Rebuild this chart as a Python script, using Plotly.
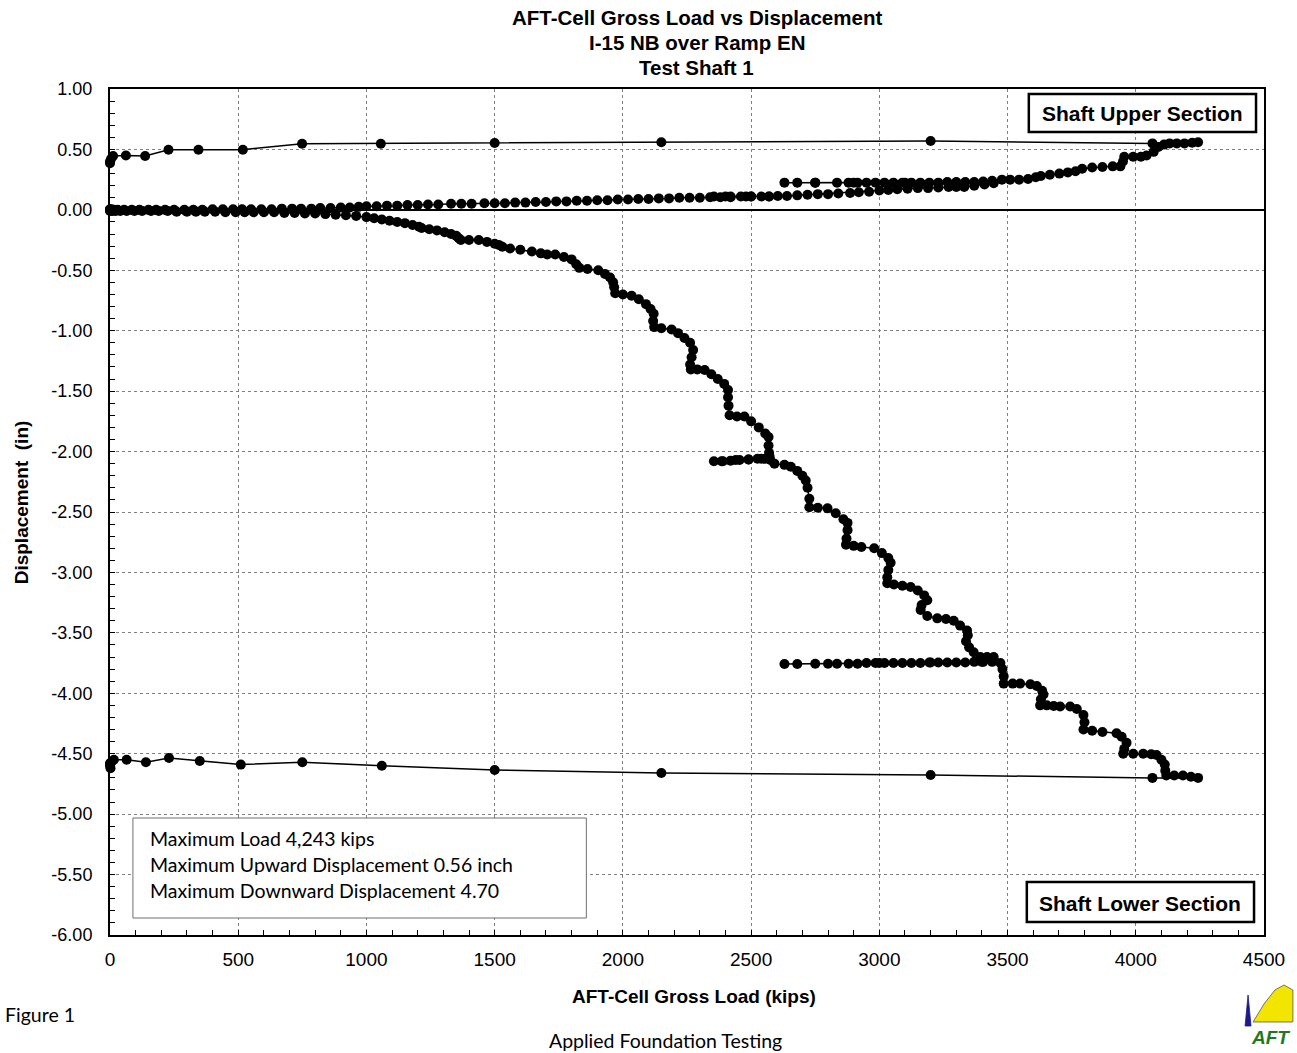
import plotly.graph_objects as go

# ---------------- data ----------------
# Shaft Lower Section : (AFT-cell gross load [kips], displacement [in]) in test order
lower_loading = [
    (0, 0), (0, -0.01), (4, -0.005), (10, -0.01), (22, -0.01), (40, -0.01), (65, -0.01), (95, -0.01),
    (125, -0.01), (160, -0.01), (190, -0.01), (225, -0.01), (260, -0.015), (300, -0.015), (335, -0.015),
    (370, -0.015), (410, -0.015), (450, -0.02), (490, -0.02), (525, -0.02), (560, -0.02), (600, -0.02),
    (640, -0.02), (680, -0.025), (720, -0.025), (760, -0.03), (800, -0.03), (840, -0.035), (880, -0.04),
    (920, -0.045), (960, -0.05), (1000, -0.06), (1030, -0.07), (1060, -0.08), (1090, -0.09), (1120, -0.10),
    (1150, -0.11), (1180, -0.125), (1205, -0.14), (1215, -0.15), (1245, -0.16), (1275, -0.17), (1305, -0.185),
    (1330, -0.20), (1350, -0.215), (1360, -0.235), (1368, -0.25), (1400, -0.25), (1438, -0.25), (1470, -0.265),
    (1500, -0.28), (1516, -0.29), (1530, -0.305), (1560, -0.32), (1600, -0.33), (1645, -0.345), (1680, -0.36),
    (1705, -0.37), (1736, -0.37), (1770, -0.39), (1800, -0.41), (1818, -0.45), (1830, -0.48), (1862, -0.49),
    (1904, -0.50), (1930, -0.53), (1950, -0.56), (1962, -0.60), (1966, -0.64), (1970, -0.69), (2000, -0.70),
    (2034, -0.71), (2062, -0.74), (2090, -0.78), (2108, -0.82), (2120, -0.86), (2118, -0.92), (2122, -0.97),
    (2150, -0.98), (2190, -0.99), (2215, -1.02), (2240, -1.06), (2262, -1.10), (2274, -1.16), (2268, -1.22),
    (2262, -1.28), (2265, -1.32), (2290, -1.32), (2319, -1.325), (2345, -1.36), (2370, -1.40), (2395, -1.44),
    (2410, -1.49), (2410, -1.55), (2412, -1.62), (2416, -1.70), (2445, -1.71), (2474, -1.71), (2500, -1.75),
    (2530, -1.80), (2555, -1.85), (2568, -1.88), (2568, -1.95), (2570, -2.01), (2572, -2.04),
    (2540, -2.06), (2490, -2.065), (2440, -2.07), (2390, -2.08), (2355, -2.08), (2385, -2.08), (2420, -2.075),
    (2455, -2.07), (2490, -2.065), (2525, -2.06), (2555, -2.06), (2575, -2.07), (2591, -2.10), (2630, -2.11),
    (2655, -2.125), (2680, -2.16), (2700, -2.20), (2713, -2.24), (2720, -2.30), (2727, -2.39), (2727, -2.46),
    (2760, -2.465), (2798, -2.47), (2830, -2.51), (2860, -2.56), (2876, -2.59), (2876, -2.65), (2872, -2.72),
    (2870, -2.77), (2900, -2.78), (2930, -2.79), (2980, -2.80), (3010, -2.84), (3035, -2.88), (3044, -2.92),
    (3035, -2.98), (3031, -3.04), (3031, -3.09), (3057, -3.10), (3090, -3.11), (3122, -3.12), (3150, -3.15),
    (3175, -3.19), (3187, -3.23), (3165, -3.27), (3161, -3.31), (3187, -3.36), (3226, -3.38), (3260, -3.385),
    (3290, -3.40), (3315, -3.44), (3342, -3.48), (3345, -3.52), (3338, -3.57), (3350, -3.62), (3368, -3.66),
    (3394, -3.70), (3420, -3.70), (3446, -3.70),
    (3400, -3.74), (3200, -3.745), (3000, -3.75), (2800, -3.755), (2630, -3.757),
    (2680, -3.757), (2750, -3.755), (2835, -3.755), (2880, -3.755), (2915, -3.755), (2950, -3.75), (2985, -3.75),
    (3020, -3.75), (3055, -3.75), (3090, -3.75), (3125, -3.75), (3160, -3.75), (3195, -3.745), (3230, -3.745),
    (3265, -3.745), (3300, -3.745), (3335, -3.745), (3370, -3.74), (3405, -3.74), (3440, -3.74),
    (3472, -3.75), (3480, -3.80), (3485, -3.86), (3485, -3.92), (3520, -3.92), (3549, -3.92), (3589, -3.925),
    (3614, -3.94), (3635, -3.98), (3640, -4.01), (3630, -4.05), (3627, -4.10), (3653, -4.10), (3680, -4.105),
    (3705, -4.11), (3744, -4.11), (3770, -4.13), (3796, -4.18), (3800, -4.24), (3796, -4.30), (3830, -4.31),
    (3870, -4.32), (3925, -4.33), (3945, -4.36), (3964, -4.41), (3955, -4.46), (3951, -4.50), (3990, -4.50),
    (4029, -4.50), (4060, -4.505), (4081, -4.51), (4100, -4.55), (4113, -4.59), (4115, -4.64), (4119, -4.68),
    (4150, -4.68), (4184, -4.68), (4215, -4.69), (4243, -4.70),
]
lower_unloading = [
    (4065, -4.70), (3200, -4.676), (2150, -4.66), (1500, -4.635), (1060, -4.60), (750, -4.57), (510, -4.59),
    (350, -4.56), (230, -4.535), (140, -4.57), (65, -4.55), (15, -4.55), (5, -4.57), (0, -4.58), (0, -4.60),
    (2, -4.62),
]

# Shaft Upper Section
upper_loading = [
    (0, 0), (0, 0.005), (5, 0.005), (15, 0.0), (30, 0.0), (55, 0.0), (85, 0.0), (115, 0.0), (150, 0.0),
    (180, 0.0), (215, 0.0), (250, 0.0), (290, 0.0), (325, 0.0), (360, 0.0), (400, 0.005), (440, 0.005),
    (480, 0.005), (515, 0.005), (550, 0.005), (590, 0.005), (630, 0.005), (670, 0.01), (710, 0.01),
    (745, 0.01), (785, 0.01), (820, 0.015), (860, 0.015), (900, 0.02), (935, 0.02), (970, 0.025),
    (1000, 0.03), (1040, 0.03), (1080, 0.035), (1120, 0.035), (1160, 0.04), (1200, 0.04), (1240, 0.045),
    (1280, 0.045), (1330, 0.05), (1370, 0.05), (1410, 0.05), (1460, 0.055), (1500, 0.055), (1540, 0.055),
    (1580, 0.06), (1620, 0.06), (1660, 0.065), (1700, 0.065), (1740, 0.07), (1780, 0.07), (1820, 0.075),
    (1860, 0.075), (1900, 0.08), (1940, 0.08), (1980, 0.085), (2020, 0.085), (2060, 0.09), (2100, 0.09),
    (2140, 0.095), (2180, 0.095), (2220, 0.10), (2260, 0.10), (2300, 0.10), (2340, 0.105), (2380, 0.105),
    (2420, 0.105), (2460, 0.11), (2500, 0.11), (2540, 0.11), (2570, 0.11),
    (2480, 0.11), (2400, 0.11), (2355, 0.11), (2420, 0.11), (2500, 0.11), (2570, 0.11),
    (2604, 0.115), (2640, 0.115), (2680, 0.12), (2720, 0.125), (2760, 0.13), (2800, 0.13), (2840, 0.135),
    (2886, 0.14), (2920, 0.145), (2960, 0.15), (3000, 0.16), (3035, 0.165), (3070, 0.17), (3110, 0.175),
    (3150, 0.18), (3190, 0.18), (3230, 0.185), (3270, 0.19), (3300, 0.19), (3331, 0.19), (3370, 0.20),
    (3410, 0.21), (3446, 0.22),
    (3300, 0.225), (3100, 0.225), (2900, 0.225), (2750, 0.225), (2630, 0.225),
    (2680, 0.225), (2750, 0.225), (2835, 0.225), (2880, 0.225), (2915, 0.225), (2950, 0.225), (2985, 0.225),
    (3020, 0.225), (3055, 0.225), (3090, 0.225), (3125, 0.225), (3160, 0.225), (3195, 0.225), (3230, 0.225),
    (3265, 0.23), (3300, 0.23), (3335, 0.23), (3370, 0.23), (3405, 0.235), (3440, 0.24), (3478, 0.25),
    (3510, 0.25), (3545, 0.25), (3580, 0.255), (3610, 0.27), (3630, 0.28), (3665, 0.29), (3702, 0.30),
    (3735, 0.31), (3765, 0.32), (3791, 0.34), (3830, 0.35), (3870, 0.355), (3910, 0.36), (3940, 0.36),
    (3950, 0.40), (3955, 0.44), (3990, 0.44), (4020, 0.44), (4042, 0.45), (4070, 0.48), (4088, 0.52),
    (4110, 0.54), (4132, 0.55), (4160, 0.55), (4190, 0.55), (4220, 0.555), (4243, 0.56),
]
upper_unloading = [
    (4065, 0.55), (3200, 0.57), (2150, 0.56), (1500, 0.553), (1056, 0.547), (749, 0.547), (518, 0.498),
    (345, 0.498), (228, 0.498), (137, 0.446), (62, 0.45), (12, 0.445), (4, 0.42), (0, 0.40), (0, 0.385),
]

x_tick_vals = [0, 500, 1000, 1500, 2000, 2500, 3000, 3500, 4000, 4500]
x_tick_text = ["0", "500", "1000", "1500", "2000", "2500", "3000", "3500", "4000", "4500"]
y_tick_vals = [1.0, 0.5, 0.0, -0.5, -1.0, -1.5, -2.0, -2.5, -3.0, -3.5, -4.0, -4.5, -5.0, -5.5, -6.0]
y_tick_text = ["1.00", "0.50", "0.00", "-0.50", "-1.00", "-1.50", "-2.00", "-2.50", "-3.00", "-3.50",
               "-4.00", "-4.50", "-5.00", "-5.50", "-6.00"]

title_lines = ["AFT-Cell Gross Load vs Displacement", "I-15 NB over Ramp EN", "Test Shaft 1"]
summary_lines = ["Maximum Load 4,243 kips",
                 "Maximum Upward Displacement 0.56 inch",
                 "Maximum Downward Displacement 4.70"]

# ---------------- layout helpers ----------------
W, H = 1297, 1053
L, R, T, B = 110, 1268, 89, 935


def px(xp):
    return (xp - L) / (R - L)


def py(yp):
    return (B - yp) / (B - T)


ARIAL = "Liberation Sans, Arial, sans-serif"
CALIBRI = "Lato, Open Sans, sans-serif"

fig = go.Figure()
for series in (lower_loading + lower_unloading, upper_loading + upper_unloading):
    fig.add_trace(go.Scatter(
        x=[p[0] for p in series], y=[p[1] for p in series],
        mode="lines+markers",
        line=dict(color="black", width=1.5),
        marker=dict(color="black", size=10),
        cliponaxis=False, showlegend=False, hoverinfo="skip"))

axis_common = dict(
    showline=True, linecolor="black", linewidth=2, mirror=True,
    showgrid=True, gridcolor="#808080", gridwidth=1, griddash="dot",
    ticks="inside", ticklen=5, tickcolor="black", tickwidth=1,
    zeroline=False,
)
fig.update_xaxes(range=[0, 4500], tickmode="array", tickvals=x_tick_vals, ticktext=x_tick_text,
                 tickfont=dict(family=ARIAL, size=19, color="black"),
                 minor=dict(tickmode="linear", tick0=0, dtick=100, ticks="inside", ticklen=5,
                            tickcolor="black", showgrid=False),
                 ticklabelstandoff=6, **axis_common)
fig.update_yaxes(range=[-6, 1], tickmode="array", tickvals=y_tick_vals, ticktext=y_tick_text,
                 tickfont=dict(family=ARIAL, size=18, color="black"),
                 minor=dict(tickmode="linear", tick0=0, dtick=0.1, ticks="inside", ticklen=5,
                            tickcolor="black", showgrid=False),
                 ticklabelstandoff=12, **axis_common)
fig.update_yaxes(zeroline=True, zerolinecolor="black", zerolinewidth=2)

shapes = [
    dict(type="rect", xref="paper", yref="paper", x0=px(133), x1=px(588), y0=py(918), y1=py(818),
         line=dict(color="#6e6e6e", width=1), fillcolor="white", layer="above"),
    dict(type="rect", xref="paper", yref="paper", x0=px(1032), x1=px(1260), y0=py(132), y1=py(94),
         line=dict(color="black", width=2.5), fillcolor="white", layer="above"),
    dict(type="rect", xref="paper", yref="paper", x0=px(1030), x1=px(1258), y0=py(922), y1=py(882),
         line=dict(color="black", width=2.5), fillcolor="white", layer="above"),
    dict(type="path", xref="paper", yref="paper",
         path=f"M {px(1257)} {py(1022)} L {px(1268)} {py(1004)} L {px(1279)} {py(990)} "
              f"L {px(1288)} {py(985)} L {px(1297)} {py(990)} L {px(1297)} {py(1022)} Z",
         fillcolor="#f2e600", line=dict(color="#555555", width=0.8), layer="above"),
    dict(type="path", xref="paper", yref="paper",
         path=f"M {px(1249)} {py(1026)} L {px(1252)} {py(995)} L {px(1255)} {py(1026)} Z",
         fillcolor="#1a1a8a", line=dict(color="#1a1a8a", width=0.8), layer="above"),
]


def note(text, xp, yp, family, size, xanchor="center", color="black", **kw):
    return dict(text=text, x=px(xp), y=py(yp), xref="paper", yref="paper", xanchor=xanchor,
                yanchor="middle", font=dict(family=family, size=size, color=color), showarrow=False, **kw)


annotations = [note(f"<b>{t}</b>", 699, 18 + 24.5 * i, ARIAL, 20.5) for i, t in enumerate(title_lines)]
annotations += [
    note("<b>AFT-Cell Gross Load (kips)</b>", 696, 996, ARIAL, 19),
    note("<b>Displacement  (in)</b>", 21, 502, ARIAL, 19, textangle=-90),
    note("Figure 1", 3, 1014, CALIBRI, 19.5, xanchor="left"),
    note("Applied Foundation Testing", 667, 1040, CALIBRI, 19.5),
    note("<b>Shaft Upper Section</b>", 1146, 114, ARIAL, 21),
    note("<b>Shaft Lower Section</b>", 1144, 903, ARIAL, 21),
    note("<b><i>AFT</i></b>", 1296, 1037, ARIAL, 19, xanchor="right", color="#1f7a1f"),
]
annotations += [note(t, 148, 838 + 26 * i, CALIBRI, 19.5, xanchor="left") for i, t in enumerate(summary_lines)]

fig.update_layout(
    width=W, height=H,
    margin=dict(l=L, r=W - R, t=T, b=H - B, pad=0),
    paper_bgcolor="white", plot_bgcolor="white",
    shapes=shapes, annotations=annotations,
    showlegend=False,
)

fig.write_html("out.html", config={"displayModeBar": False},
               post_script="document.body.style.margin='0';")
